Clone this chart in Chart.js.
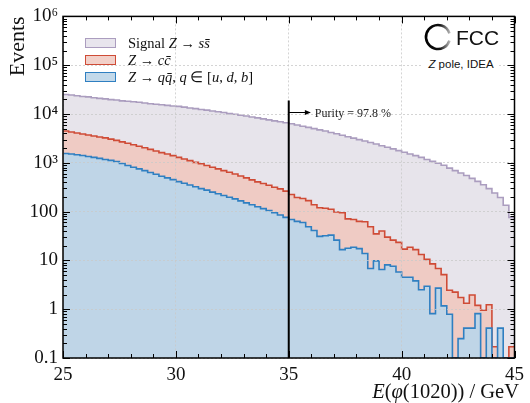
<!DOCTYPE html>
<html><head><meta charset="utf-8">
<script src="https://cdn.jsdelivr.net/npm/chart.js@4"></script>
<style>
html,body{margin:0;padding:0;background:#fff;}
#wrap{position:relative;width:530px;height:403px;overflow:hidden;font-family:"Liberation Serif",serif;color:#111;}
canvas{position:absolute;left:0;top:0;}
.row{position:absolute;left:85px;height:17px;white-space:nowrap;font-size:14.5px;}
.box{position:absolute;left:0;top:3px;width:29px;height:8px;border:1.5px solid;}
.lt{position:absolute;left:43px;top:0;line-height:17px;}
i{font-style:italic;}
#xt{position:absolute;right:11px;top:381px;font-size:20.5px;line-height:21px;white-space:nowrap;}
#fcc{position:absolute;left:456px;top:27px;font-family:"Liberation Sans",sans-serif;font-size:21px;line-height:22px;}
#zp{position:absolute;left:423px;top:57px;width:76px;height:14px;background:#fff;font-family:"Liberation Sans",sans-serif;font-size:11.5px;line-height:14px;text-align:center;}
</style></head><body>
<div id="wrap">
<canvas id="c" width="530" height="403"></canvas>
<div class="row" style="top:35px"><div class="box" style="border-color:#ab9dbf;background:#e8e5ed"></div><div class="lt">Signal <i>Z</i> → <i>s</i><i>s̄</i></div></div>
<div class="row" style="top:52px"><div class="box" style="border-color:#cf4b36;background:#f2d0c9"></div><div class="lt"><i>Z</i> → <i>c</i><i>c̄</i></div></div>
<div class="row" style="top:69px"><div class="box" style="border-color:#2f7fc1;background:#c3d9ea"></div><div class="lt"><i>Z</i> → <i>q</i><i>q̄</i>, <i>q</i> ∈ [<i>u</i>, <i>d</i>, <i>b</i>]</div></div>
<div id="xt"><i>E</i>(<i>φ</i>(1020)) / GeV</div>
<div id="fcc">FCC</div>
<div id="zp"><i>Z</i> pole, IDEA</div>
</div>
<script>
// ---- data ----
const binEdges = [25,25.25,25.5,25.75,26,26.25,26.5,26.75,27,27.25,27.5,27.75,28,28.25,28.5,28.75,29,29.25,29.5,29.75,
30,30.25,30.5,30.75,31,31.25,31.5,31.75,32,32.25,32.5,32.75,33,33.25,33.5,33.75,34,34.25,34.5,34.75,
35,35.25,35.5,35.75,36,36.25,36.5,36.75,37,37.25,37.5,37.75,38,38.25,38.5,38.75,39,39.25,39.5,39.75,
40,40.25,40.5,40.75,41,41.25,41.5,41.75,42,42.25,42.5,42.75,43,43.25,43.5,43.75,44,44.25,44.5,44.75,45];

const signalSS = [25100,24500,23700,22900,22400,21600,20900,20400,19700,19300,
18600,18200,17800,17400,16800,16200,15800,15500,15000,14600,
14300,13800,13300,12900,12400,12000,11500,11100,10700,10200,
9890,9440,9120,8710,8320,7940,7590,7240,6920,6610,
6310,5960,5620,5310,5010,4730,4470,4170,3940,3670,
3430,3200,2990,2790,2600,2430,2240,2090,1930,1780,
1640,1510,1400,1290,1170,1070,977,891,776,692,
617,550,479,417,355,295,240,195,135,76];

const bkgCC = [4470,4270,4070,3890,3720,3550,3390,3240,3050,2880,
2690,2510,2340,2190,2040,1880,1740,1620,1510,1400,
1290,1200,1110,1020,955,881,813,750,692,638,
589,537,490,447,407,376,347,316,292,263,
224,195,186,168,138,120,117,112,98,95,
71,69,63,62,49,35,40,30,26,23.4,
17,18.6,16.6,13.2,10.5,8.5,6.8,5.1,2.45,2.24,
1.74,1.32,1.95,1.2,0.95,1.23,0.17,0.17,0,0.17];

const bkgQQ = [1550,1510,1460,1410,1350,1290,1230,1170,1120,1060,
966,881,813,750,692,631,582,531,490,452,
412,380,351,324,295,275,251,232,214,197,
182,166,151,138,126,115,105,95,85,76,
69,63,60,49,41,31,32,33,26,16.6,
17.8,18.6,17.4,13.8,6.8,9.8,6.5,8.1,7.6,5.8,
4.5,4.5,3.8,2.5,2.95,0.81,2.7,1.17,0.79,0,
0.25,0.41,0.41,0.81,0,0.41,0,0.41,0,0];

const xTickValues = [25,30,35,40,45];
const xTickLabels = ['25','30','35','40','45'];
const yTickValues = [0.1,1,10,100,1e3,1e4,1e5,1e6];
const yTickLabels = ['0.1','1','10','100','10³','10⁴','10⁵','10⁶'];
const X_MIN = 25, X_MAX = 45, Y_MIN = 0.1, Y_MAX = 1e6;

// annotation (data units)
const cutValue = 35, cutTop = 1.9e4, arrowY = 1.1e4, arrowEnd = 35.98, purityText = 'Purity = 97.8 %';

function toSteps(vals){
  const pts = vals.map((v,i)=>({x:binEdges[i], y: v>0 ? v : Y_MIN}));
  pts.push({x:binEdges[vals.length], y: pts[pts.length-1].y});
  return pts;
}

const decor = {
  id:'decor',
  afterDraw(chart){
    const {ctx, chartArea:a, scales:{x,y}} = chart;
    ctx.save();
    ctx.strokeStyle = '#000'; ctx.lineWidth = 1;
    ctx.beginPath();
    for (let v = X_MIN; v <= X_MAX; v += 1){
      const px = Math.round(x.getPixelForValue(v)) + 0.5;
      const L = (v % 5 === 0) ? 7 : 4;
      ctx.moveTo(px, a.bottom); ctx.lineTo(px, a.bottom - L);
      ctx.moveTo(px, a.top); ctx.lineTo(px, a.top + L);
    }
    for (let e = -1; e < 6; e++){
      for (let m = 1; m < 10; m++){
        const v = m * Math.pow(10, e);
        const py = Math.round(y.getPixelForValue(v)) + 0.5;
        const L = m === 1 ? 7 : 4;
        ctx.moveTo(a.left, py); ctx.lineTo(a.left + L, py);
        ctx.moveTo(a.right, py); ctx.lineTo(a.right - L, py);
      }
    }
    ctx.stroke();
    ctx.lineWidth = 1.5;
    ctx.strokeRect(a.left, a.top, a.right - a.left, a.bottom - a.top);
    const cx = x.getPixelForValue(cutValue);
    ctx.lineWidth = 2;
    ctx.beginPath();
    ctx.moveTo(cx, y.getPixelForValue(cutTop)); ctx.lineTo(cx, a.bottom);
    ctx.stroke();
    const ay = Math.round(y.getPixelForValue(arrowY)) + 0.5;
    const ax2 = x.getPixelForValue(arrowEnd);
    ctx.lineWidth = 1;
    ctx.beginPath(); ctx.moveTo(cx, ay); ctx.lineTo(ax2 - 4, ay); ctx.stroke();
    ctx.fillStyle = '#000';
    ctx.beginPath(); ctx.moveTo(ax2, ay); ctx.lineTo(ax2 - 6, ay - 2.5); ctx.lineTo(ax2 - 6, ay + 2.5); ctx.closePath(); ctx.fill();
    ctx.font = '12px "Liberation Serif"';
    ctx.fillStyle = '#222';
    ctx.textBaseline = 'middle';
    ctx.fillText(purityText, ax2 + 4, ay + 1);
    const g = ctx.createLinearGradient(425, 0, 452, 0);
    g.addColorStop(0, '#000'); g.addColorStop(0.55, '#111'); g.addColorStop(1, '#d8d8d8');
    ctx.strokeStyle = g; ctx.lineWidth = 2.6;
    ctx.beginPath(); ctx.arc(438, 37, 12, 0.3, 2 * Math.PI - 0.3); ctx.stroke();
    ctx.restore();
  }
};

new Chart(document.getElementById('c'), {
  type: 'line',
  data: {
    datasets: [
      {label:'Z → qq̄, q ∈ [u, d, b]', data: toSteps(bkgQQ), stepped:'before', fill:'start',
       borderColor:'#2f7fc1', backgroundColor:'#bfd5e7', borderWidth:1.6, pointRadius:0, tension:0},
      {label:'Z → cc̄', data: toSteps(bkgCC), stepped:'before', fill:'start',
       borderColor:'#cf4b36', backgroundColor:'#efcbc4', borderWidth:1.6, pointRadius:0, tension:0},
      {label:'Signal Z → ss̄', data: toSteps(signalSS), stepped:'before', fill:'start',
       borderColor:'#ab9dbf', backgroundColor:'#e7e4eb', borderWidth:1.6, pointRadius:0, tension:0}
    ]
  },
  options: {
    responsive:false, devicePixelRatio:1, animation:false,
    layout:{padding:{left:0, right:11, top:15, bottom:0}},
    plugins:{legend:{display:false}, tooltip:{enabled:false}},
    scales:{
      x:{type:'linear', min:X_MIN, max:X_MAX,
         afterBuildTicks(s){ s.ticks = xTickValues.map(v=>({value:v})); },
         afterFit(s){ s.height = 45; },
         ticks:{padding:6, color:'#111', font:{family:'"Liberation Serif"', size:19}, maxRotation:0,
                callback:(v)=>xTickLabels[xTickValues.indexOf(v)]},
         grid:{color:'#c9c9c9', lineWidth:0.8, drawTicks:false, z:1},
         border:{display:false, dash:[2,2]}},
      y:{type:'logarithmic', min:Y_MIN, max:Y_MAX,
         afterBuildTicks(s){ s.ticks = yTickValues.map(v=>({value:v})); },
         afterFit(s){ s.width = 63; },
         ticks:{padding:5, color:'#111', font:{family:'"Liberation Serif"', size:19},
                callback:(v)=>{ const i = yTickValues.findIndex(t=>Math.abs(t-v)/t < 1e-6); return i>=0 ? yTickLabels[i] : ''; }},
         grid:{color:'#c9c9c9', lineWidth:0.8, drawTicks:false, z:1},
         border:{display:false, dash:[2,2]},
         title:{display:true, text:'Events', align:'end', color:'#111', font:{family:'"Liberation Serif"', size:22}, padding:{top:5,bottom:0}}}
    }
  },
  plugins:[decor]
});
</script>
</body></html>
